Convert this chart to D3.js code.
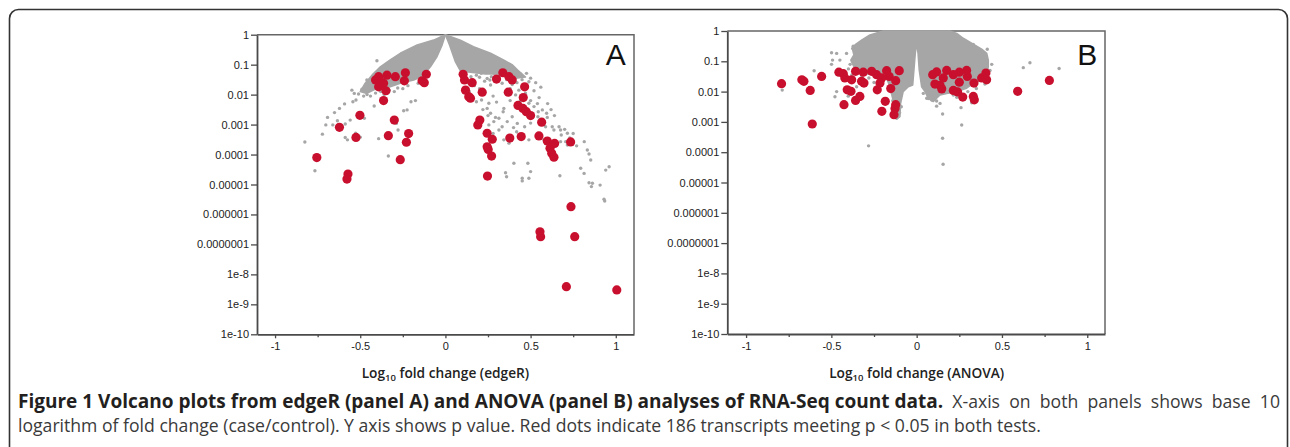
<!DOCTYPE html>
<html>
<head>
<meta charset="utf-8">
<script src="https://cdn.jsdelivr.net/npm/d3@7"></script>
<style>
  body { margin: 0; background: #fff; }
  svg { display: block; }
</style>
</head>
<body>
<div id="chart"></div>
<script>
// ---- data (log10 fold change, log10 p) ----
const xTicks = [-1, -0.5, 0, 0.5, 1];
const xTickLabels = ["-1", "-0.5", "0", "0.5", "1"];
const xMinorTicks = [-0.75, -0.25, 0.25, 0.75];
const yTicks = [1, 1e-1, 1e-2, 1e-3, 1e-4, 1e-5, 1e-6, 1e-7, 1e-8, 1e-9, 1e-10];
const yTickLabels = ["1", "0.1", "0.01", "0.001", "0.0001", "0.00001", "0.000001",
  "0.0000001", "1e-8", "1e-9", "1e-10"];

// dense grey cloud outline, panel A
const edgerCloudLeft = [[0, 0], [-0.069, -0.18], [-0.166, -0.34], [-0.265, -0.62], [-0.324, -0.84],
  [-0.382, -1.07], [-0.431, -1.35], [-0.471, -1.62], [-0.5, -1.9], [-0.461, -1.96], [-0.402, -1.79],
  [-0.324, -1.74], [-0.265, -1.62], [-0.186, -1.51], [-0.137, -1.4], [-0.088, -1.07], [-0.049, -0.73],
  [-0.019, -0.34]];
const edgerCloudRight = [[0, 0], [0.088, -0.18], [0.165, -0.4], [0.265, -0.62], [0.341, -0.84],
  [0.394, -1.01], [0.424, -1.18], [0.47, -1.41], [0.412, -1.45], [0.324, -1.31], [0.235, -1.31],
  [0.147, -1.25], [0.088, -1.21], [0.059, -0.91], [0.024, -0.34]];

const edgerGrey = [
  [-0.402, -0.87], [-0.461, -1.51], [-0.445, -1.62], [-0.49, -1.82], [-0.549, -1.85], [-0.535, -1.96],
  [-0.525, -2.18], [-0.543, -2.24], [-0.592, -2.31], [-0.622, -2.46], [-0.651, -2.6], [-0.692, -2.76],
  [-0.634, -2.87], [-0.588, -2.98], [-0.661, -3.01], [-0.702, -3.01], [-0.476, -2.79], [-0.559, -2.85],
  [-0.527, -3.29], [-0.722, -3.32], [-0.588, -3.43], [-0.575, -3.51], [-0.392, -3.47], [-0.825, -3.58],
  [-0.5, -3.42], [-0.288, -2.96], [-0.278, -3.18], [-0.245, -2.54], [-0.225, -2.51], [-0.202, -2.24],
  [-0.176, -2.2], [-0.335, -4.05], [-0.766, -4.54], [-0.418, -2.38],
  [-0.46, -2.0], [-0.44, -2.05], [-0.41, -1.95], [-0.38, -1.9], [-0.33, -1.85], [-0.28, -1.78],
  [-0.22, -1.7], [-0.16, -1.62], [-0.12, -1.5], [-0.48, -2.05], [-0.51, -1.98], [-0.36, -2.0],
  [-0.3, -1.9], [-0.25, -1.8],
  [0.182, -1.35], [0.21, -1.29], [0.245, -1.46], [0.261, -1.51], [0.284, -1.29], [0.32, -1.35],
  [0.265, -1.68], [0.333, -1.62], [0.392, -1.66], [0.441, -1.31], [0.476, -1.29], [0.49, -1.57],
  [0.52, -1.87], [0.431, -1.85], [0.412, -2.01], [0.182, -2.24], [0.212, -2.18], [0.255, -2.29],
  [0.245, -2.46], [0.265, -2.62], [0.294, -2.76], [0.314, -2.79], [0.343, -2.46], [0.339, -2.57],
  [0.363, -2.9], [0.392, -2.74], [0.422, -2.96], [0.465, -3.07], [0.49, -2.29], [0.52, -2.4],
  [0.545, -2.57], [0.569, -2.51], [0.594, -2.62], [0.598, -2.76], [0.543, -2.74], [0.559, -2.96],
  [0.588, -3.07], [0.627, -3.07], [0.637, -3.18], [0.667, -3.07], [0.676, -3.18], [0.7, -3.16],
  [0.716, -3.29], [0.333, -3.07], [0.343, -3.51], [0.373, -3.62], [0.418, -3.24], [0.49, -3.51],
  [0.578, -3.51], [0.676, -3.57], [0.706, -3.57], [0.716, -3.68], [0.402, -4.29], [0.484, -4.29],
  [0.353, -4.61], [0.359, -4.74], [0.451, -4.79], [0.49, -4.79], [0.672, -4.71], [0.794, -4.46],
  [0.814, -4.63], [0.833, -3.85], [0.843, -3.98], [0.853, -4.18], [0.863, -4.96], [0.908, -5.02],
  [0.941, -4.52], [0.961, -4.41], [0.255, -3.01], [0.314, -3.18], [0.284, -2.9], [0.843, -4.94],
  [0.857, -5.07], [0.931, -5.49], [0.935, -5.55], [0.451, -4.88], [0.815, -3.57], [0.77, -3.71],
  [0.5, -4.57],
  [0.15, -1.4], [0.2, -1.42], [0.3, -1.45], [0.36, -1.5], [0.4, -1.38], [0.45, -1.5], [0.5, -1.45],
  [0.13, -1.6], [0.17, -1.7], [0.14, -1.9], [0.2, -1.8], [0.38, -1.8], [0.47, -1.95], [0.55, -2.1],
  [0.5, -2.2], [0.6, -2.3], [0.23, -1.55], [0.27, -1.4], [0.35, -1.38], [0.42, -1.6], [0.53, -1.6],
  [0.56, -1.75], [0.28, -2.05], [0.3, -2.25], [0.38, -2.2], [0.44, -2.2], [0.54, -2.3], [0.62, -2.5],
  [0.64, -2.7], [0.5, -2.95], [0.4, -3.1], [0.28, -3.3], [0.68, -3.35], [0.73, -3.45], [0.75, -3.3],
  [0.22, -2.5], [0.25, -2.7]];

const edgerRed = [
  [-0.392, -1.4], [-0.41, -1.51], [-0.38, -1.57], [-0.343, -1.35], [-0.363, -1.62], [-0.392, -1.74],
  [-0.349, -1.87], [-0.294, -1.4], [-0.235, -1.27], [-0.241, -1.54], [-0.112, -1.32], [-0.137, -1.54],
  [-0.124, -1.6], [-0.363, -2.2], [-0.502, -2.69], [-0.3, -2.85], [-0.622, -3.09], [-0.525, -3.43],
  [-0.335, -3.37], [-0.216, -3.3], [-0.229, -3.59], [-0.755, -4.1], [-0.265, -4.17], [-0.572, -4.65],
  [-0.578, -4.82],
  [0.104, -1.32], [0.112, -1.51], [0.157, -1.6], [0.118, -1.85], [0.137, -2.07], [0.147, -2.12],
  [0.216, -1.92], [0.3, -1.48], [0.337, -1.27], [0.373, -1.4], [0.392, -1.51], [0.369, -1.92],
  [0.465, -1.74], [0.457, -2.1], [0.426, -2.36], [0.455, -2.46], [0.475, -2.57], [0.5, -2.7],
  [0.202, -2.85], [0.19, -3.01], [0.245, -3.29], [0.275, -3.49], [0.245, -3.74], [0.251, -3.83],
  [0.271, -4.05], [0.378, -3.45], [0.445, -3.4], [0.549, -3.38], [0.565, -2.92], [0.598, -3.55],
  [0.641, -3.63], [0.614, -3.79], [0.624, -3.96], [0.637, -4.09], [0.735, -3.58], [0.247, -4.72],
  [0.737, -5.74], [0.555, -6.58], [0.559, -6.74], [0.759, -6.74], [0.71, -8.41], [1.006, -8.52]];

// dense grey cloud outline, panel B
const anovaCloud = [[-0.079, 0], [-0.196, 0], [-0.274, -0.13], [-0.323, -0.3], [-0.362, -0.46],
  [-0.375, -0.63], [-0.368, -0.79], [-0.386, -0.96], [-0.368, -1.18], [-0.343, -1.29], [-0.313, -1.4],
  [-0.235, -1.45], [-0.176, -1.56], [-0.157, -1.84], [-0.141, -2.22], [-0.121, -2.61], [-0.11, -2.88],
  [-0.098, -2.83], [-0.094, -2.39], [-0.079, -2.0], [-0.049, -1.84], [-0.023, -1.78], [-0.016, -1.29],
  [-0.008, -0.74], [0, -0.41], [0.008, -0.74], [0.015, -1.29], [0.029, -1.84], [0.049, -2.0],
  [0.068, -2.22], [0.097, -2.33], [0.117, -2.22], [0.137, -2.11], [0.176, -2.06], [0.235, -2.0],
  [0.293, -1.89], [0.332, -1.73], [0.381, -1.62], [0.411, -1.45], [0.42, -1.18], [0.42, -0.96],
  [0.411, -0.74], [0.381, -0.6], [0.332, -0.43], [0.273, -0.24], [0.235, -0.08], [0.195, 0]];

const anovaGrey = [
  [-0.788, -1.95], [-0.601, -1.31], [-0.499, -0.72], [-0.469, -0.74], [-0.493, -0.96], [-0.499, -1.1],
  [-0.45, -0.96], [-0.411, -0.74], [-0.372, -0.5], [-0.375, -0.58], [-0.469, -2.0], [-0.479, -2.17],
  [-0.416, -1.98], [-0.401, -2.15], [-0.352, -1.84], [-0.282, -3.79], [-0.117, -2.88],
  [-0.39, -1.1], [-0.4, -1.25], [-0.38, -1.45], [-0.32, -1.5], [-0.28, -1.55], [-0.25, -1.7],
  [-0.09, -2.5], [-0.1, -2.7], [-0.14, -2.3],
  [0.039, -2.06], [0.059, -2.22], [0.117, -2.31], [0.137, -2.39], [0.117, -2.48], [0.152, -2.74],
  [0.152, -3.54], [0.155, -4.4], [0.26, -2.53], [0.264, -3.1], [0.332, -0.44], [0.414, -0.6],
  [0.381, -0.87], [0.625, -1.21], [0.664, -1.05], [0.835, -1.24], [0.235, -2.19], [0.215, -2.11],
  [0.25, -1.98], [0.323, -2.37], [0.336, -2.08], [0.254, -0.4], [0.41, -1.0], [0.068, -2.23],
  [0.089, -2.28], [0.1, -2.1], [0.43, -1.3], [0.44, -1.1], [0.4, -1.75], [0.35, -1.9], [0.3, -2.0]];

const anovaRed = [
  [-0.792, -1.74], [-0.673, -1.61], [-0.661, -1.66], [-0.624, -1.96], [-0.557, -1.5], [-0.612, -3.07],
  [-0.456, -1.36], [-0.43, -1.41], [-0.421, -1.55], [-0.381, -1.61], [-0.358, -1.33], [-0.313, -1.36],
  [-0.323, -1.66], [-0.309, -1.72], [-0.264, -1.33], [-0.235, -1.44], [-0.176, -1.31], [-0.205, -1.55],
  [-0.215, -1.72], [-0.231, -1.94], [-0.161, -1.5], [-0.102, -1.31], [-0.123, -1.64], [-0.152, -1.9],
  [-0.407, -1.94], [-0.385, -1.99], [-0.333, -2.16], [-0.358, -2.29], [-0.426, -2.43], [-0.184, -2.32],
  [-0.123, -2.43], [-0.127, -2.56], [-0.204, -2.65], [-0.133, -2.76],
  [0.117, -1.35], [0.176, -1.3], [0.156, -1.55], [0.137, -1.79], [0.147, -1.91], [0.215, -1.44],
  [0.25, -1.36], [0.293, -1.3], [0.297, -1.5], [0.25, -1.69], [0.215, -1.96], [0.24, -2.01],
  [0.27, -2.18], [0.336, -1.72], [0.381, -1.55], [0.406, -1.39], [0.41, -1.61], [0.332, -2.16],
  [0.338, -2.27], [0.592, -1.99], [0.778, -1.63], [0.107, -1.75], [0.094, -1.44]];

const captionBold = "Figure 1 Volcano plots from edgeR (panel A) and ANOVA (panel B) analyses of RNA-Seq count data.";
const captionLine1 = "X-axis on both panels shows base 10";
const captionLine2 = "logarithm of fold change (case/control). Y axis shows p value. Red dots indicate 186 transcripts meeting p < 0.05 in both tests.";

// ---- layout ----
const width = 1290, height = 447;
const grey = "#a6a6a6", red = "#c8102e", axisCol = "#4a4a4a";

const panels = [
  {letter: "A", left: 257, right: 634, top: 34.7, bottom: 334.3, xDomain: [-1.106, 1.107],
   clouds: [edgerCloudLeft, edgerCloudRight], grey: edgerGrey, red: edgerRed, method: "(edgeR)"},
  {letter: "B", left: 727.3, right: 1105, top: 31, bottom: 334, xDomain: [-1.11, 1.104],
   clouds: [anovaCloud], grey: anovaGrey, red: anovaRed, method: "(ANOVA)"}
];

const svg = d3.select("#chart").append("svg")
  .attr("width", width)
  .attr("height", height);

// outer rounded box
svg.append("rect")
  .attr("x", 9.5).attr("y", 9.5)
  .attr("width", 1278).attr("height", 470)
  .attr("rx", 9)
  .attr("fill", "none")
  .attr("stroke", "#333")
  .attr("stroke-width", 1.6);

panels.forEach(p => {
  const x = d3.scaleLinear().domain(p.xDomain).range([p.left, p.right]);
  const y = d3.scaleLog().domain([1, 1e-10]).range([p.top, p.bottom]);
  const g = svg.append("g");

  // frame (top + right)
  g.append("path")
    .attr("d", `M${p.left},${p.top}H${p.right}V${p.bottom}`)
    .attr("fill", "none")
    .attr("stroke", "#666")
    .attr("stroke-width", 1.5);

  const line = d3.line().x(d => x(d[0])).y(d => y(Math.pow(10, d[1])));
  p.clouds.forEach(c => {
    g.append("path")
      .attr("d", line(c) + "Z")
      .attr("fill", grey)
      .attr("stroke", grey)
      .attr("stroke-width", 1.5)
      .attr("stroke-linejoin", "round");
  });

  g.selectAll("circle.grey")
    .data(p.grey)
    .join("circle")
    .attr("class", "grey")
    .attr("cx", d => x(d[0]))
    .attr("cy", d => y(Math.pow(10, d[1])))
    .attr("r", 1.7)
    .attr("fill", grey);

  g.selectAll("circle.red")
    .data(p.red)
    .join("circle")
    .attr("class", "red")
    .attr("cx", d => x(d[0]))
    .attr("cy", d => y(Math.pow(10, d[1])))
    .attr("r", 4.6)
    .attr("fill", red);

  // y axis
  const yAxis = g.append("g")
    .attr("transform", `translate(${p.left},0)`)
    .call(d3.axisLeft(y).tickValues(yTicks).tickSize(6).tickSizeOuter(0)
      .tickFormat((d, i) => yTickLabels[i]));

  // x axis
  const xAxis = g.append("g")
    .attr("transform", `translate(0,${p.bottom})`)
    .call(d3.axisBottom(x).tickValues(xTicks).tickSize(4).tickSizeOuter(0)
      .tickFormat((d, i) => xTickLabels[i]));
  g.append("g")
    .attr("transform", `translate(0,${p.bottom})`)
    .call(d3.axisBottom(x).tickValues(xMinorTicks).tickSize(3).tickSizeOuter(0).tickFormat(""))
    .call(a => a.select(".domain").remove());

  [yAxis, xAxis].forEach(a => {
    a.select(".domain").attr("stroke", axisCol).attr("stroke-width", 1.8);
    a.selectAll("text")
      .attr("font-family", "'Liberation Sans', Arial, sans-serif")
      .attr("font-size", 11)
      .attr("fill", "#222");
  });
  g.selectAll(".tick line").attr("stroke", axisCol).attr("stroke-width", 1.3);
  yAxis.selectAll("text").attr("x", -8);
  xAxis.selectAll("text").attr("y", 8);

  // axis title
  const t = g.append("text")
    .attr("x", (x(0)))
    .attr("y", 378)
    .attr("text-anchor", "middle")
    .attr("font-family", "'Open Sans', sans-serif")
    .attr("font-weight", 600)
    .attr("font-size", 13.7)
    .attr("fill", "#222");
  t.append("tspan").text("Log");
  t.append("tspan").attr("font-size", 9.5).attr("dy", 3).text("10");
  t.append("tspan").attr("dy", -3).text(" fold change " + p.method);

  // panel letter
  g.append("text")
    .attr("x", x(1))
    .attr("y", 65)
    .attr("text-anchor", "middle")
    .attr("font-family", "'Liberation Sans', Arial, sans-serif")
    .attr("font-size", 30)
    .attr("fill", "#111")
    .text(p.letter);
});

// caption: first line is justified, second line left aligned
const capFont = "'Open Sans', sans-serif";
const capX = 18, capRight = 1280;
const cap1 = svg.append("text")
  .attr("x", capX).attr("y", 408)
  .attr("font-family", capFont)
  .attr("font-size", 16);
const bold = cap1.append("tspan").attr("font-weight", 700).attr("fill", "#231f20").text(captionBold);
const reg = cap1.append("tspan").attr("fill", "#3a3a3a").text(" " + captionLine1);

const cap2 = svg.append("text")
  .attr("x", capX).attr("y", 432)
  .attr("font-family", capFont)
  .attr("font-size", 16)
  .attr("fill", "#3a3a3a")
  .text(captionLine2);

const fsBold = 16 * 926 / bold.node().getComputedTextLength();
const fsReg = 16 * 1024 / cap2.node().getComputedTextLength();
bold.attr("font-size", fsBold);
reg.attr("font-size", fsReg);
cap2.attr("font-size", fsReg);
const used = cap1.node().getComputedTextLength();
const gaps = captionLine1.split(" ").length;
reg.attr("word-spacing", (capRight - capX - used) / gaps);
</script>
</body>
</html>
